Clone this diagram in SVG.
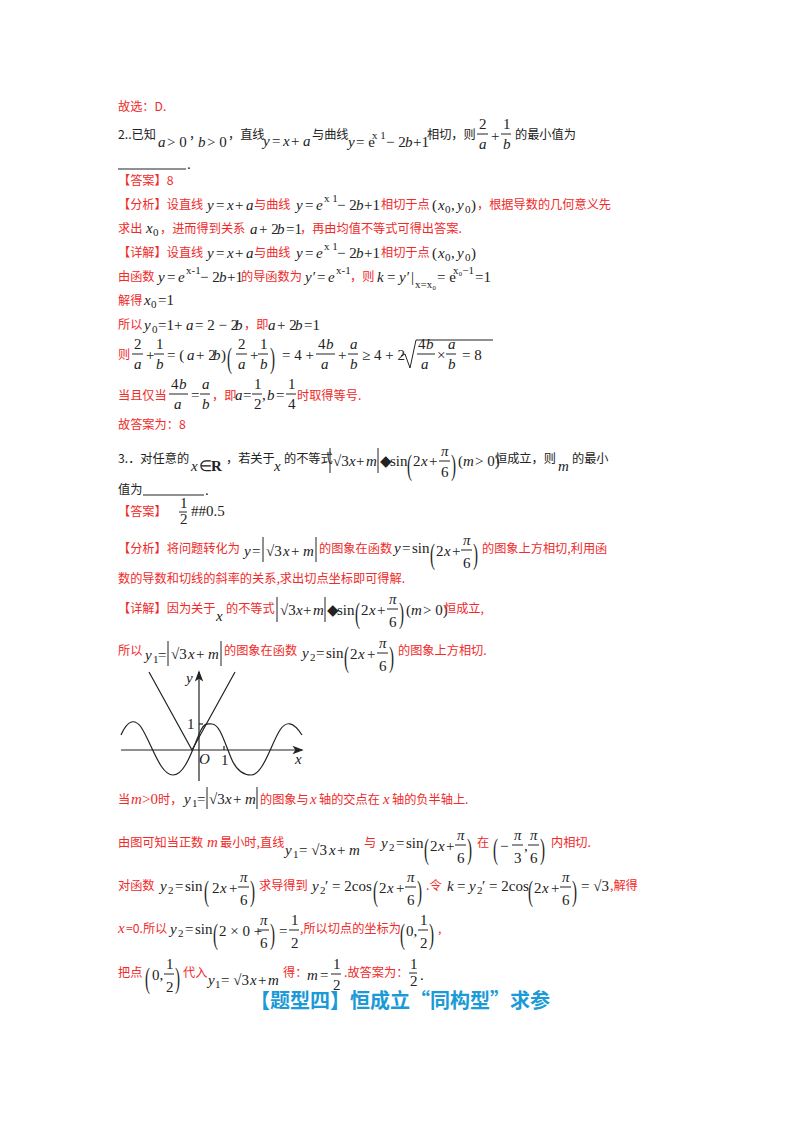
<svg xmlns="http://www.w3.org/2000/svg" width="800" height="1132" viewBox="0 0 800 1132">
<style>
text{font-family:"Noto Sans CJK SC","Liberation Sans",sans-serif;font-size:12.2px}
.r{fill:#f02a2a}
.k{fill:#222}
.m{font-family:"Liberation Serif",serif;font-style:italic;font-size:15px}
.n{font-family:"Liberation Serif",serif;font-size:15px}
.s{font-family:"Liberation Serif",serif;font-size:11px}
.bp{font-family:"Liberation Serif",serif;font-size:15px;fill:#222}
.fl{stroke:#222;stroke-width:1}
.h{fill:#1a9ad6;font-weight:bold;font-size:20px}
</style>
<rect width="800" height="1132" fill="#fff"/>
<g id="q2">
<text class="r" x="118" y="111">故选：D.</text>
<text class="k" x="118" y="139">2..已知</text>
<text class="k m" x="158" y="147">a</text><text class="k n" x="167" y="147">&gt; 0</text><text class="k" x="189" y="139">，</text>
<text class="k m" x="198" y="147">b</text><text class="k n" x="207" y="147">&gt; 0</text><text class="k" x="228" y="139">，直线</text>
<text class="k m" x="263" y="146">y</text><text class="k n" x="272" y="146">= </text><text class="k m" x="283" y="146">x</text><text class="k n" x="291" y="146">+ </text><text class="k m" x="303" y="146">a</text>
<text class="k" x="312" y="139">与曲线</text>
<text class="k m" x="348" y="147">y</text><text class="k n" x="356" y="147">= e</text><text class="k s" x="372" y="139">x 1</text><text class="k n" x="386" y="147">− 2</text><text class="k m" x="405" y="147">b</text><text class="k n" x="413" y="147">+1</text>
<text class="k" x="427" y="139">相切，则</text>
<text class="k n" x="479" y="129">2</text><line class="fl" x1="477" y1="134" x2="488" y2="134"/><text class="k m" x="479" y="149">a</text>
<text class="k n" x="491" y="141">+</text>
<text class="k n" x="503" y="129">1</text><line class="fl" x1="501" y1="134" x2="511" y2="134"/><text class="k m" x="503" y="149">b</text>
<text class="k" x="515" y="139">的最小值为</text>
<line class="fl" x1="118" y1="169" x2="186" y2="169"/><text class="k n" x="187" y="169">.</text>
<text class="r" x="118" y="185">【答案】8</text>
<text class="r" x="118" y="209">【分析】设直线</text><text class="k m" x="207" y="210">y</text><text class="k n" x="216" y="210">= </text><text class="k m" x="227" y="210">x</text><text class="k n" x="235" y="210">+ </text><text class="k m" x="246" y="210">a</text>
<text class="r" x="254" y="209">与曲线</text><text class="k m" x="296" y="210">y</text><text class="k n" x="305" y="210">= </text><text class="k m" x="316" y="210">e</text><text class="k s" x="324" y="202">x 1</text><text class="k n" x="337" y="210">− 2</text><text class="k m" x="356" y="210">b</text><text class="k n" x="364" y="210">+1</text>
<text class="r" x="381" y="209">相切于点</text><text class="k n" x="432" y="210">(</text><text class="k m" x="438" y="210">x</text><text class="k s" x="445" y="213">0</text><text class="k n" x="451" y="210">, </text><text class="k m" x="457" y="210">y</text><text class="k s" x="465" y="213">0</text><text class="k n" x="471" y="210">)</text>
<text class="r" x="477" y="209">，根据导数的几何意义先</text>
<text class="r" x="118" y="233">求出</text><text class="k m" x="146" y="233">x</text><text class="k s" x="153" y="236">0</text><text class="r" x="160" y="233">，进而得到关系</text><text class="k m" x="250" y="234">a</text><text class="k n" x="259" y="234">+ 2</text><text class="k m" x="277" y="234">b</text><text class="k n" x="286" y="234">=1</text><text class="r" x="300" y="233">，再由均值不等式可得出答案.</text>
<text class="r" x="118" y="257">【详解】设直线</text><text class="k m" x="207" y="258">y</text><text class="k n" x="216" y="258">= </text><text class="k m" x="227" y="258">x</text><text class="k n" x="235" y="258">+ </text><text class="k m" x="246" y="258">a</text>
<text class="r" x="254" y="257">与曲线</text><text class="k m" x="296" y="258">y</text><text class="k n" x="305" y="258">= </text><text class="k m" x="316" y="258">e</text><text class="k s" x="324" y="250">x 1</text><text class="k n" x="337" y="258">− 2</text><text class="k m" x="356" y="258">b</text><text class="k n" x="364" y="258">+1</text>
<text class="r" x="381" y="257">相切于点</text><text class="k n" x="432" y="258">(</text><text class="k m" x="438" y="258">x</text><text class="k s" x="445" y="261">0</text><text class="k n" x="451" y="258">, </text><text class="k m" x="457" y="258">y</text><text class="k s" x="465" y="261">0</text><text class="k n" x="471" y="258">)</text>
<text class="r" x="118" y="281">由函数</text><text class="k m" x="158" y="282">y</text><text class="k n" x="167" y="282">= </text><text class="k m" x="178" y="282">e</text><text class="k s" x="186" y="274">x-1</text><text class="k n" x="200" y="282">− 2</text><text class="k m" x="219" y="282">b</text><text class="k n" x="227" y="282">+1</text>
<text class="r" x="241" y="281">的导函数为</text><text class="k m" x="305" y="282">y′</text><text class="k n" x="317" y="282">= </text><text class="k m" x="328" y="282">e</text><text class="k s" x="336" y="274">x-1</text><text class="r" x="350" y="281">，则</text>
<text class="k m" x="377" y="282">k</text><text class="k n" x="387" y="282">= </text><text class="k m" x="399" y="282">y′</text><text class="k n" x="411" y="282">|</text><text class="k s" x="415" y="288">x=x₀</text><text class="k n" x="437" y="282">= e</text><text class="k s" x="453" y="274">x₀−1</text><text class="k n" x="475" y="282">=1</text>
<text class="r" x="118" y="305">解得</text><text class="k m" x="144" y="305">x</text><text class="k s" x="151" y="308">0</text><text class="k n" x="158" y="305">=1</text>
<text class="r" x="118" y="329">所以</text><text class="k m" x="144" y="330">y</text><text class="k s" x="152" y="333">0</text><text class="k n" x="158" y="330">=1+ </text><text class="k m" x="186" y="330">a</text><text class="k n" x="195" y="330">= 2 − 2</text><text class="k m" x="235" y="330">b</text><text class="r" x="244" y="329">，即</text><text class="k m" x="268" y="330">a</text><text class="k n" x="277" y="330">+ 2</text><text class="k m" x="295" y="330">b</text><text class="k n" x="304" y="330">=1</text>
<text class="r" x="118" y="359">则</text>
<text class="k n" x="134" y="349">2</text><line class="fl" x1="132" y1="354" x2="143" y2="354"/><text class="k m" x="134" y="369">a</text><text class="k n" x="146" y="360">+</text>
<text class="k n" x="156" y="349">1</text><line class="fl" x1="154" y1="354" x2="164" y2="354"/><text class="k m" x="156" y="369">b</text>
<text class="k n" x="167" y="360">= (</text><text class="k m" x="187" y="360">a</text><text class="k n" x="196" y="360">+ 2</text><text class="k m" x="213" y="360">b</text><text class="k n" x="221" y="360">)</text>
<text class="bp" transform="translate(227,368) scale(1,2)">(</text>
<text class="k n" x="238" y="349">2</text><line class="fl" x1="236" y1="354" x2="247" y2="354"/><text class="k m" x="238" y="369">a</text><text class="k n" x="250" y="360">+</text>
<text class="k n" x="260" y="349">1</text><line class="fl" x1="258" y1="354" x2="268" y2="354"/><text class="k m" x="260" y="369">b</text>
<text class="bp" transform="translate(270,368) scale(1,2)">)</text>
<text class="k n" x="282" y="360">= 4 +</text>
<text class="k n" x="318" y="349">4</text><text class="k m" x="326" y="349">b</text><line class="fl" x1="316" y1="354" x2="335" y2="354"/><text class="k m" x="321" y="369">a</text>
<text class="k n" x="338" y="360">+</text>
<text class="k m" x="350" y="349">a</text><line class="fl" x1="348" y1="354" x2="358" y2="354"/><text class="k m" x="350" y="369">b</text>
<text class="k n" x="362" y="360">≥ 4 + 2</text>
<path d="M401 356 l4 -2 l5 14 l6 -28 h77" fill="none" stroke="#222" stroke-width="1"/>
<text class="k n" x="418" y="349">4</text><text class="k m" x="426" y="349">b</text><line class="fl" x1="417" y1="354" x2="435" y2="354"/><text class="k m" x="421" y="369">a</text>
<text class="k n" x="437" y="360">×</text>
<text class="k m" x="448" y="349">a</text><line class="fl" x1="446" y1="354" x2="456" y2="354"/><text class="k m" x="448" y="369">b</text>
<text class="k n" x="462" y="360">= 8</text>
<text class="r" x="118" y="400">当且仅当</text>
<text class="k n" x="171" y="389">4</text><text class="k m" x="179" y="389">b</text><line class="fl" x1="169" y1="394" x2="188" y2="394"/><text class="k m" x="174" y="409">a</text>
<text class="k n" x="191" y="400">=</text>
<text class="k m" x="202" y="389">a</text><line class="fl" x1="200" y1="394" x2="210" y2="394"/><text class="k m" x="202" y="409">b</text>
<text class="r" x="212" y="400">，即</text><text class="k m" x="235" y="400">a</text><text class="k n" x="243" y="400">=</text>
<text class="k n" x="254" y="389">1</text><line class="fl" x1="252" y1="394" x2="262" y2="394"/><text class="k n" x="254" y="409">2</text>
<text class="k n" x="262" y="400">,</text><text class="k m" x="267" y="400">b</text><text class="k n" x="276" y="400">=</text>
<text class="k n" x="288" y="389">1</text><line class="fl" x1="286" y1="394" x2="296" y2="394"/><text class="k n" x="288" y="409">4</text>
<text class="r" x="297" y="400">时取得等号.</text>
<text class="r" x="118" y="429">故答案为：8</text>
</g>
<g id="q3">
<text class="k" x="118" y="463">3.．对任意的</text><text class="k m" x="191" y="471">x</text><text class="k n" x="199" y="471">∈ </text><text class="k n" x="211" y="471" font-weight="bold">R</text>
<text class="k" x="226" y="463">，若关于</text><text class="k m" x="274" y="471">x</text><text class="k" x="284" y="463">的不等式</text>
<line class="fl" x1="330" y1="448" x2="330" y2="473"/><text class="k n" x="333" y="466">√3</text><text class="k m" x="349" y="466">x</text><text class="k n" x="356" y="466">+</text><text class="k m" x="366" y="466">m</text><line class="fl" x1="378" y1="448" x2="378" y2="473"/>
<text class="k n" x="380" y="466">◆</text><text class="k n" x="390" y="466">sin</text>
<text class="bp" transform="translate(407,475) scale(1,2)">(</text>
<text class="k n" x="413" y="466">2</text><text class="k m" x="421" y="466">x</text><text class="k n" x="429" y="466">+</text>
<text class="k m" x="441" y="456">π</text><line class="fl" x1="439" y1="461" x2="450" y2="461"/><text class="k n" x="441" y="477">6</text>
<text class="bp" transform="translate(451,475) scale(1,2)">)</text>
<text class="k n" x="458" y="466">(</text><text class="k m" x="463" y="466">m</text><text class="k n" x="475" y="466">&gt; 0)</text>
<text class="k" x="495" y="463">恒成立，则</text><text class="k m" x="558" y="471">m</text><text class="k" x="572" y="463">的最小</text>
<text class="k" x="118" y="494">值为</text><line class="fl" x1="143" y1="495" x2="204" y2="495"/><text class="k n" x="205" y="495">.</text>
<text class="r" x="118" y="516">【答案】</text>
<text class="k n" x="180" y="508" font-size="13">1</text><line class="fl" x1="179" y1="512" x2="187" y2="512"/><text class="k n" x="180" y="524" font-size="13">2</text>
<text class="k n" x="191" y="516">##0.5</text>
<text class="r" x="118" y="553">【分析】将问题转化为</text><text class="k m" x="244" y="556">y</text><text class="k n" x="252" y="556">=</text>
<line class="fl" x1="263" y1="537" x2="263" y2="562"/><text class="k n" x="266" y="556">√3</text><text class="k m" x="283" y="556">x</text><text class="k n" x="291" y="556">+ </text><text class="k m" x="303" y="556">m</text><line class="fl" x1="316" y1="537" x2="316" y2="562"/>
<text class="r" x="319" y="553">的图象在函数</text><text class="k m" x="394" y="553">y</text><text class="k n" x="402" y="553">=</text><text class="k n" x="412" y="553">sin</text>
<text class="bp" transform="translate(430,564) scale(1,2)">(</text><text class="k n" x="436" y="556">2</text><text class="k m" x="444" y="556">x</text><text class="k n" x="452" y="556">+</text>
<text class="k m" x="463" y="545">π</text><line class="fl" x1="461" y1="550" x2="472" y2="550"/><text class="k n" x="463" y="568">6</text>
<text class="bp" transform="translate(473,564) scale(1,2)">)</text>
<text class="r" x="482" y="553">的图象上方相切,利用函</text>
<text class="r" x="118" y="583">数的导数和切线的斜率的关系,求出切点坐标即可得解.</text>
<text class="r" x="118" y="613">【详解】因为关于</text><text class="k m" x="216" y="621">x</text><text class="r" x="226" y="613">的不等式</text>
<line class="fl" x1="277" y1="597" x2="277" y2="622"/><text class="k n" x="280" y="615">√3</text><text class="k m" x="296" y="615">x</text><text class="k n" x="303" y="615">+</text><text class="k m" x="313" y="615">m</text><line class="fl" x1="325" y1="597" x2="325" y2="622"/>
<text class="k n" x="327" y="615">◆</text><text class="k n" x="337" y="615">sin</text>
<text class="bp" transform="translate(355,623) scale(1,2)">(</text><text class="k n" x="361" y="615">2</text><text class="k m" x="369" y="615">x</text><text class="k n" x="377" y="615">+</text>
<text class="k m" x="389" y="604">π</text><line class="fl" x1="387" y1="609" x2="398" y2="609"/><text class="k n" x="389" y="627">6</text>
<text class="bp" transform="translate(399,623) scale(1,2)">)</text>
<text class="k n" x="406" y="615">(</text><text class="k m" x="411" y="615">m</text><text class="k n" x="423" y="615">&gt; 0)</text><text class="r" x="444" y="613">恒成立,</text>
<text class="r" x="118" y="655">所以</text><text class="k m" x="145" y="660">y</text><text class="k s" x="153" y="663">1</text><text class="k n" x="158" y="660">=</text>
<line class="fl" x1="168" y1="641" x2="168" y2="666"/><text class="k n" x="171" y="659">√3</text><text class="k m" x="188" y="659">x</text><text class="k n" x="196" y="659">+ </text><text class="k m" x="208" y="659">m</text><line class="fl" x1="221" y1="641" x2="221" y2="666"/>
<text class="r" x="224" y="655">的图象在函数</text><text class="k m" x="302" y="658">y</text><text class="k s" x="310" y="661">2</text><text class="k n" x="316" y="658">=</text><text class="k n" x="326" y="658">sin</text>
<text class="bp" transform="translate(344,667) scale(1,2)">(</text><text class="k n" x="350" y="659">2</text><text class="k m" x="358" y="659">x</text><text class="k n" x="367" y="659">+</text>
<text class="k m" x="379" y="648">π</text><line class="fl" x1="377" y1="653" x2="388" y2="653"/><text class="k n" x="379" y="671">6</text>
<text class="bp" transform="translate(389,667) scale(1,2)">)</text>
<text class="r" x="398" y="655">的图象上方相切.</text>
</g>
<g id="graph" fill="none" stroke="#222" stroke-width="1.2">
<line x1="121" y1="750" x2="302" y2="750"/><path d="M302 750 l-8 -3 l2 3 l-2 3z" fill="#222"/>
<line x1="199" y1="781" x2="199" y2="672"/><path d="M199 672 l-3 8 l3 -2 l3 2z" fill="#222"/>
<line x1="224" y1="750" x2="224" y2="746"/>
<line x1="199" y1="724" x2="203" y2="724"/>
<path d="M149 672 L192 750 L235 672"/>
<path d="M121 735 C128 719 135 719 141 727 C152 744 160 775 173 775 C186 775 194 744 201 730 C205 722 208 724 212 724 C220 724 225 744 232 760 C238 773 245 775 251 775 C263 775 271 744 280 730 C286 721 293 721 302 735"/>
<text x="186" y="683" stroke="none" fill="#222" class="m" font-size="14">y</text>
<text x="187" y="729" stroke="none" fill="#222" class="n" font-size="14">1</text>
<text x="199" y="764" stroke="none" fill="#222" class="m" font-size="14">O</text>
<text x="221" y="765" stroke="none" fill="#222" class="n" font-size="14">1</text>
<text x="295" y="764" stroke="none" fill="#222" class="m" font-size="14">x</text>
</g>
<g id="sol">
<text class="r" x="118" y="804">当</text><text class="r m" x="131" y="804">m</text><text class="r n" x="142" y="804">&gt;0</text><text class="r" x="158" y="804">时，</text>
<text class="k m" x="184" y="804">y</text><text class="k s" x="192" y="807">1</text><text class="k n" x="197" y="804">=</text>
<line class="fl" x1="207" y1="787" x2="207" y2="809"/><text class="k n" x="209" y="804">√3</text><text class="k m" x="225" y="804">x</text><text class="k n" x="233" y="804">+ </text><text class="k m" x="245" y="804">m</text><line class="fl" x1="257" y1="787" x2="257" y2="809"/>
<text class="r" x="260" y="804">的图象与</text><text class="r m" x="310" y="804">x</text><text class="r" x="319" y="804">轴的交点在</text><text class="r m" x="383" y="804">x</text><text class="r" x="392" y="804">轴的负半轴上.</text>
<text class="r" x="118" y="847">由图可知当正数</text><text class="r m" x="207" y="847">m</text><text class="r" x="220" y="847">最小时,直线</text>
<text class="k m" x="285" y="855">y</text><text class="k s" x="293" y="858">1</text><text class="k n" x="299" y="855">= √3</text><text class="k m" x="329" y="855">x</text><text class="k n" x="337" y="855">+ </text><text class="k m" x="349" y="855">m</text>
<text class="r" x="364" y="847">与</text><text class="k m" x="381" y="848">y</text><text class="k s" x="389" y="851">2</text><text class="k n" x="396" y="848">=</text><text class="k n" x="406" y="848">sin</text>
<text class="bp" transform="translate(424,859) scale(1,2)">(</text><text class="k n" x="430" y="851">2</text><text class="k m" x="438" y="851">x</text><text class="k n" x="446" y="851">+</text>
<text class="k m" x="457" y="840">π</text><line class="fl" x1="455" y1="845" x2="466" y2="845"/><text class="k n" x="457" y="863">6</text>
<text class="bp" transform="translate(467,859) scale(1,2)">)</text>
<text class="r" x="477" y="847">在</text>
<text class="bp" transform="translate(493,859) scale(1,2)">(</text><text class="k n" x="500" y="851">−</text>
<text class="k m" x="514" y="840">π</text><line class="fl" x1="512" y1="845" x2="523" y2="845"/><text class="k n" x="514" y="863">3</text><text class="k n" x="524" y="851">,</text>
<text class="k m" x="530" y="840">π</text><line class="fl" x1="528" y1="845" x2="539" y2="845"/><text class="k n" x="530" y="863">6</text>
<text class="bp" transform="translate(540,859) scale(1,2)">)</text>
<text class="r" x="551" y="847">内相切.</text>
<text class="r" x="118" y="890">对函数</text><text class="k m" x="160" y="891">y</text><text class="k s" x="168" y="894">2</text><text class="k n" x="175" y="891">=</text><text class="k n" x="185" y="891">sin</text>
<text class="bp" transform="translate(204,901) scale(1,2)">(</text><text class="k n" x="212" y="893">2</text><text class="k m" x="220" y="893">x</text><text class="k n" x="229" y="893">+</text>
<text class="k m" x="240" y="882">π</text><line class="fl" x1="238" y1="887" x2="249" y2="887"/><text class="k n" x="240" y="905">6</text>
<text class="bp" transform="translate(250,901) scale(1,2)">)</text>
<text class="r" x="259" y="890">求导得到</text><text class="k m" x="312" y="891">y</text><text class="k s" x="320" y="894">2</text><text class="k n" x="325" y="891">′ = 2cos</text>
<text class="bp" transform="translate(373,901) scale(1,2)">(</text><text class="k n" x="379" y="893">2</text><text class="k m" x="387" y="893">x</text><text class="k n" x="396" y="893">+</text>
<text class="k m" x="407" y="882">π</text><line class="fl" x1="405" y1="887" x2="416" y2="887"/><text class="k n" x="407" y="905">6</text>
<text class="bp" transform="translate(417,901) scale(1,2)">)</text>
<text class="r" x="426" y="890">.令</text><text class="k m" x="447" y="891">k</text><text class="k n" x="457" y="891">= </text><text class="k m" x="469" y="891">y</text><text class="k s" x="477" y="894">2</text><text class="k n" x="482" y="891">′ = 2cos</text>
<text class="bp" transform="translate(528,901) scale(1,2)">(</text><text class="k n" x="534" y="893">2</text><text class="k m" x="542" y="893">x</text><text class="k n" x="551" y="893">+</text>
<text class="k m" x="562" y="882">π</text><line class="fl" x1="560" y1="887" x2="571" y2="887"/><text class="k n" x="562" y="905">6</text>
<text class="bp" transform="translate(572,901) scale(1,2)">)</text>
<text class="k n" x="581" y="891">= √3</text><text class="r" x="610" y="890">,解得</text>
<text class="r m" x="118" y="933">x</text><text class="r" x="126" y="933">=0.所以</text><text class="k m" x="170" y="934">y</text><text class="k s" x="178" y="937">2</text><text class="k n" x="185" y="934">=</text><text class="k n" x="195" y="934">sin</text>
<text class="bp" transform="translate(213,944) scale(1,2)">(</text><text class="k n" x="219" y="936">2 × 0 +</text>
<text class="k m" x="260" y="925">π</text><line class="fl" x1="258" y1="930" x2="269" y2="930"/><text class="k n" x="260" y="948">6</text>
<text class="bp" transform="translate(270,944) scale(1,2)">)</text><text class="k n" x="279" y="936">=</text>
<text class="k n" x="291" y="925">1</text><line class="fl" x1="289" y1="930" x2="299" y2="930"/><text class="k n" x="291" y="948">2</text>
<text class="r" x="300" y="933">,所以切点的坐标为</text>
<text class="bp" transform="translate(400,944) scale(1,2)">(</text><text class="k n" x="406" y="936">0,</text>
<text class="k n" x="420" y="925">1</text><line class="fl" x1="418" y1="930" x2="428" y2="930"/><text class="k n" x="420" y="948">2</text>
<text class="bp" transform="translate(429,944) scale(1,2)">)</text><text class="r" x="438" y="933">,</text>
<text class="r" x="118" y="977">把点</text>
<text class="bp" transform="translate(145,988) scale(1,2)">(</text><text class="k n" x="152" y="980">0,</text>
<text class="k n" x="166" y="969">1</text><line class="fl" x1="164" y1="974" x2="174" y2="974"/><text class="k n" x="166" y="992">2</text>
<text class="bp" transform="translate(175,988) scale(1,2)">)</text>
<text class="r" x="183" y="977">代入</text><text class="k m" x="208" y="985">y</text><text class="k s" x="215" y="988">1</text><text class="k n" x="221" y="985">= √3</text><text class="k m" x="250" y="985">x</text><text class="k n" x="258" y="985">+</text><text class="k m" x="268" y="985">m</text>
<text class="r" x="283" y="977">得：</text><text class="k m" x="307" y="980">m</text><text class="k n" x="320" y="980">=</text>
<text class="k n" x="333" y="969">1</text><line class="fl" x1="331" y1="974" x2="341" y2="974"/><text class="k n" x="333" y="990">2</text>
<text class="r" x="344" y="977">.故答案为：</text>
<text class="k n" x="410" y="969" font-size="13">1</text><line class="fl" x1="409" y1="973" x2="417" y2="973"/><text class="k n" x="410" y="986" font-size="13">2</text><text class="k n" x="420" y="980">.</text>
</g>
<g id="heading"><text class="h" x="400" y="1008" text-anchor="middle">【题型四】恒成立“同构型”求参</text></g>
</svg>
